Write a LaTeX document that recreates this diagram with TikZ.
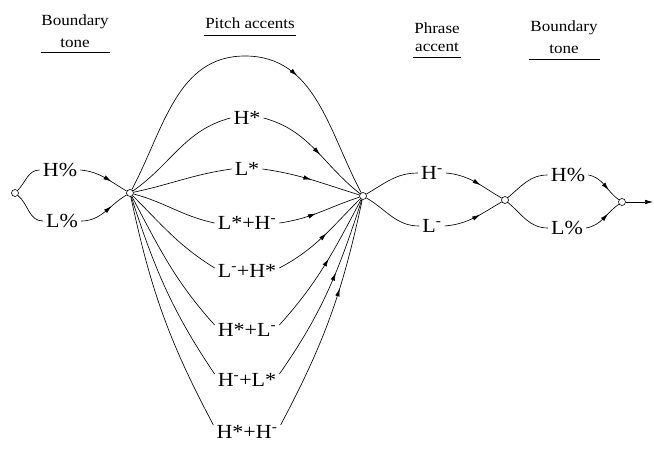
\documentclass[tikz,border=0pt]{standalone}
\usepackage{fontspec}
\setmainfont{Liberation Serif}[FakeStretch=1.1]
\usetikzlibrary{decorations.markings,arrows.meta}
\begin{document}
\begin{tikzpicture}[x=1pt,y=1pt,
  st/.style={circle,draw,inner sep=0pt,minimum size=7pt,line width=0.6pt},
  lab/.style={font=\fontsize{20}{20}\selectfont,inner sep=3pt},
  hd/.style={font=\fontsize{15.5}{16}\selectfont,inner sep=0pt},
  ln/.style={line width=0.65pt},
  uline/.style={line width=1pt},
  arr/.style={ln,postaction={decorate},decoration={markings,mark=at position #1 with {\arrow{Latex[length=8pt,width=4.5pt]}}}},
  arr/.default=0.6]
\useasboundingbox (0,0) rectangle (654,-451);
% states
\node[st] (n0) at (15,-193) {};
\node[st] (n1) at (130,-193) {};
\node[st] (n2) at (363,-196) {};
\node[st] (n3) at (505,-200) {};
\node[st] (n4) at (622,-202) {};
\coordinate (out) at (653,-202);
% headers
\node[hd] (h1a) at (75,-22) {Boundary};
\node[hd] (h1b) at (75,-43) {tone};
\draw[uline] (41,-52) coordinate (u1a) -- (110,-52) coordinate (u1b);
\node[hd] (h2) at (250,-23) {Pitch accents};
\draw[uline] (204,-35) coordinate (u2a) -- (296,-35) coordinate (u2b);
\node[hd] (h3a) at (437,-28) {Phrase};
\node[hd] (h3b) at (437,-47) {accent};
\draw[uline] (413,-57) coordinate (u3a) -- (461,-57) coordinate (u3b);
\node[hd] (h4a) at (564,-28) {Boundary};
\node[hd] (h4b) at (564,-49) {tone};
\draw[uline] (529,-59) coordinate (u4a) -- (600,-59) coordinate (u4b);
% labels
\node[lab] (bh) at (60,-170) {H\%};
\node[lab] (bl) at (62,-221) {L\%};
\coordinate (top) at (245,-56);
\node[lab] (p1) at (247,-118) {H*};
\node[lab] (p2) at (247,-169) {L*};
\node[lab] (p3) at (247,-223) {L*+H\textsuperscript{-}};
\node[lab] (p4) at (247,-271) {L\textsuperscript{-}+H*};
\node[lab] (p5) at (247,-330) {H*+L\textsuperscript{-}};
\node[lab] (p6) at (247,-380) {H\textsuperscript{-}+L*};
\node[lab] (p7) at (247,-432) {H*+H\textsuperscript{-}};
\node[lab] (ph) at (432,-173) {H\textsuperscript{-}};
\node[lab] (pl) at (432,-226) {L\textsuperscript{-}};
\node[lab] (eh) at (568,-175) {H\%};
\node[lab] (el) at (567,-228) {L\%};
% boundary tone edges
\draw[ln] (n0) to[out=45,in=180] (bh.west);
\draw[arr=0.65] (bh.east) to[out=-5,in=150] (n1);
\draw[ln] (n0) to[out=-40,in=180] (bl.west);
\draw[arr=0.65] (bl.east) to[out=0,in=-150] (n1);
% pitch accent edges
\draw[ln] (n1) to[out=62,in=180] (top);
\draw[arr=0.3] (top) to[out=0,in=118] (n2);
\draw[ln] (n1) to[out=35,in=195] (p1.west);
\draw[arr=0.55] (p1.east) to[out=-15,in=142] (n2);
\draw[ln] (n1) to[out=12,in=188] (p2.west);
\draw[arr=0.5] (p2.east) to[out=-8,in=163] (n2);
\draw[ln] (n1) to[out=-15,in=168] (p3.west);
\draw[arr=0.45] (p3.east) to[out=8,in=-162] (n2);
\draw[ln] (n1) to[out=-45,in=148] ([yshift=3pt]p4.west);
\draw[arr=0.55] ([yshift=3pt]p4.east) to[out=28,in=-135] (n2);
\draw[ln] (n1) to[out=-62,in=132] ([yshift=5pt]p5.west);
\draw[arr=0.55] ([yshift=5pt]p5.east) to[out=48,in=-118] (n2);
\draw[ln] (n1) to[out=-72,in=124] ([yshift=6pt]p6.west);
\draw[arr=0.6] ([yshift=6pt]p6.east) to[out=55,in=-108] (n2);
\draw[ln] (n1) to[out=-78,in=118] ([yshift=7pt]p7.west);
\draw[arr=0.62] ([yshift=7pt]p7.east) to[out=62,in=-102] (n2);
% phrase accent edges
\draw[ln] (n2) to[out=30,in=180] (ph.west);
\draw[arr=0.6] (ph.east) to[out=-5,in=150] (n3);
\draw[ln] (n2) to[out=-30,in=180] (pl.west);
\draw[arr=0.6] (pl.east) to[out=5,in=-150] (n3);
% final boundary tone edges
\draw[ln] (n3) to[out=40,in=180] (eh.west);
\draw[arr=0.65] (eh.east) to[out=-10,in=145] (n4);
\draw[ln] (n3) to[out=-40,in=180] (el.west);
\draw[arr=0.65] (el.east) to[out=10,in=-145] (n4);
\draw[ln,-{Latex[length=8pt,width=4.5pt]}] (n4) -- (out);
\end{tikzpicture}
\end{document}
